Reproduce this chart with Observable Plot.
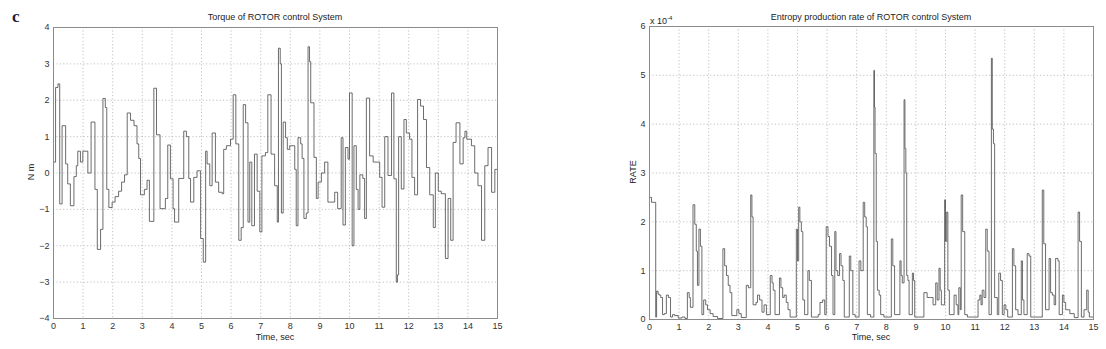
<!DOCTYPE html>
<html>
<head>
<meta charset="utf-8">
<script src="https://cdn.jsdelivr.net/npm/d3@7"></script>
<script src="https://cdn.jsdelivr.net/npm/@observablehq/plot@0.6"></script>
<style>
  html, body { margin: 0; padding: 0; background: #fff; }
  #wrap { position: relative; width: 1106px; height: 349px; overflow: hidden; font-family: "Liberation Sans", Arial, sans-serif; }
  #left, #right { position: absolute; top: 0; }
  #left { left: 0; }
  #right { left: 553px; }
  .lbl { position: absolute; white-space: nowrap; color: #222; font-size: 9px; line-height: 1; }
  .ctr { transform: translate(-50%, -50%); }
  .rot { transform: translate(-50%, -50%) rotate(-90deg); }
</style>
</head>
<body>
<div id="wrap">
  <div id="left"></div>
  <div id="right"></div>
  <div class="lbl" style="left:12px; top:8px; font-family:'Liberation Serif','DejaVu Serif',serif; font-weight:bold; font-size:17px; color:#1d1d3a;">c</div>
  <div class="lbl ctr" style="left:275px; top:17px;">Torque of ROTOR control System</div>
  <div class="lbl ctr" style="left:871px; top:17px;">Entropy production rate of ROTOR control System</div>
  <div class="lbl ctr" style="left:275px; top:337px;">Time, sec</div>
  <div class="lbl ctr" style="left:871px; top:337px;">Time, sec</div>
  <div class="lbl rot" style="left:31px; top:172px;">N m</div>
  <div class="lbl rot" style="left:633px; top:172px;">RATE</div>
  <div class="lbl" style="left:650px; top:15px;">x 10<sup style="font-size:6px; vertical-align:4px;">-4</sup></div>
</div>
<script>
// ---- tick labels ----
const timeTicks = [0, 1, 2, 3, 4, 5, 6, 7, 8, 9, 10, 11, 12, 13, 14, 15];
const torqueTicks = [-4, -3, -2, -1, 0, 1, 2, 3, 4];
const rateTicks = [0, 1, 2, 3, 4, 5, 6]; // in units of 1e-4

// ---- torque (N m), step signal: switch times (s) and held values ----
const torqueTime = [0, 0.07, 0.15, 0.21, 0.29, 0.41, 0.48, 0.57, 0.69, 0.77, 0.82, 0.91, 0.99, 1.16, 1.27, 1.4, 1.48, 1.59, 1.67, 1.75, 1.8, 1.87, 1.98, 2.08, 2.2, 2.3, 2.4, 2.49, 2.6, 2.72, 2.82, 2.88, 2.94, 3.07, 3.16, 3.24, 3.39, 3.48, 3.6, 3.78, 3.86, 3.95, 4.04, 4.09, 4.23, 4.4, 4.49, 4.57, 4.63, 4.74, 4.85, 4.97, 5.06, 5.14, 5.19, 5.28, 5.36, 5.47, 5.58, 5.7, 5.75, 5.84, 5.98, 6.07, 6.16, 6.26, 6.34, 6.41, 6.49, 6.57, 6.63, 6.7, 6.79, 6.88, 6.97, 7.04, 7.16, 7.24, 7.35, 7.47, 7.56, 7.6, 7.66, 7.7, 7.76, 7.84, 7.9, 7.98, 8.15, 8.2, 8.26, 8.35, 8.4, 8.46, 8.54, 8.6, 8.65, 8.69, 8.8, 8.88, 8.94, 9.05, 9.16, 9.27, 9.5, 9.6, 9.72, 9.78, 9.86, 9.95, 10.0, 10.09, 10.15, 10.23, 10.29, 10.35, 10.45, 10.51, 10.57, 10.68, 10.8, 11.02, 11.1, 11.19, 11.3, 11.42, 11.5, 11.58, 11.62, 11.66, 11.75, 11.84, 11.92, 12.03, 12.11, 12.2, 12.3, 12.4, 12.5, 12.6, 12.71, 12.83, 12.9, 13.0, 13.1, 13.24, 13.33, 13.42, 13.5, 13.6, 13.73, 13.84, 13.9, 13.96, 14.12, 14.23, 14.34, 14.46, 14.57, 14.68, 14.8, 14.91, 15];
const torqueValue = [0.3, 2.35, 2.45, -0.85, 1.3, 0.25, -0.3, -0.9, -0.1, 0.2, 0.6, 0.3, 0.6, 0.0, 1.4, -0.45, -2.1, -1.55, 2.05, 1.8, -0.45, -0.95, -0.8, -0.65, -0.5, -0.25, -0.05, 1.65, 1.45, 1.3, 0.8, 0.4, -0.6, -0.45, -0.2, -1.33, 2.33, 1.05, -0.98, -0.7, 0.77, -0.16, -0.98, -1.35, -0.15, 1.15, 1.0, -0.15, -0.8, -0.12, 0.06, -1.8, -2.45, 0.6, 0.25, -0.35, 1.1, -0.25, -0.53, -0.57, 0.65, 0.75, 0.93, 2.15, 0.8, -1.85, -1.5, 1.88, 1.38, -1.35, 0.3, -1.45, 0.52, -0.5, -1.62, 0.47, 0.56, 2.15, 0.52, -0.35, -1.35, 3.43, 3.0, -1.1, 1.4, 0.97, 0.65, 0.75, 0.1, -1.45, 0.97, 0.8, 0.4, -1.25, -1.1, 3.47, 3.06, 1.93, 0.43, -0.7, -0.25, 0.0, 0.3, -0.8, -0.53, -0.98, 0.97, -1.43, 0.7, 0.38, 2.2, -2.0, 0.75, -0.45, -1.0, -0.05, -0.15, -1.25, 2.06, 0.47, 0.3, -0.12, -0.94, 1.0, -0.07, 2.2, -0.16, -3.0, -2.8, 1.0, -0.44, 1.47, 1.1, 0.93, -0.12, -0.6, 2.02, 1.84, 1.47, 0.15, -0.6, -1.5, 0.0, -0.5, -0.57, -2.35, -0.7, -1.85, 0.84, 1.38, 0.25, 0.97, 1.15, 0.93, 0.75, 0.0, -0.35, -1.85, 0.2, 0.7, -0.53, 0.1, 0.1];

// ---- entropy production rate (x 1e-4), step signal ----
const rateTime = [0, 0.07, 0.21, 0.24, 0.29, 0.33, 0.38, 0.44, 0.5, 0.57, 0.64, 0.71, 0.78, 0.85, 0.97, 1.1, 1.2, 1.28, 1.34, 1.38, 1.47, 1.53, 1.58, 1.62, 1.67, 1.72, 1.77, 1.83, 1.9, 1.96, 2.05, 2.15, 2.3, 2.48, 2.54, 2.6, 2.66, 2.72, 2.78, 2.95, 3.02, 3.1, 3.27, 3.34, 3.42, 3.46, 3.5, 3.6, 3.65, 3.72, 3.8, 3.87, 3.95, 4.08, 4.14, 4.18, 4.24, 4.39, 4.44, 4.5, 4.55, 4.62, 4.68, 4.75, 4.96, 5.0, 5.04, 5.08, 5.13, 5.18, 5.24, 5.35, 5.4, 5.47, 5.7, 5.76, 5.85, 5.92, 5.97, 6.03, 6.08, 6.15, 6.2, 6.26, 6.3, 6.36, 6.42, 6.47, 6.53, 6.58, 6.75, 6.8, 6.87, 6.95, 7.08, 7.14, 7.22, 7.27, 7.32, 7.36, 7.47, 7.58, 7.6, 7.62, 7.66, 7.7, 7.76, 7.81, 7.92, 8.17, 8.22, 8.28, 8.46, 8.5, 8.54, 8.6, 8.63, 8.66, 8.69, 8.73, 8.77, 8.88, 8.92, 8.96, 9.27, 9.38, 9.5, 9.58, 9.67, 9.72, 9.78, 9.82, 9.86, 9.97, 10.0, 10.04, 10.08, 10.13, 10.29, 10.36, 10.42, 10.45, 10.5, 10.53, 10.58, 10.65, 10.74, 11.1, 11.16, 11.2, 11.24, 11.3, 11.36, 11.41, 11.47, 11.55, 11.58, 11.62, 11.66, 11.75, 11.8, 11.86, 11.92, 11.98, 12.04, 12.1, 12.26, 12.31, 12.37, 12.45, 12.56, 12.6, 12.65, 12.76, 12.82, 12.88, 13.27, 13.32, 13.38, 13.5, 13.55, 13.61, 13.67, 13.72, 13.8, 13.84, 13.95, 14.0, 14.06, 14.2, 14.35, 14.48, 14.53, 14.59, 14.68, 14.77, 14.82, 14.86, 15];
const rateValue = [2.5, 2.4, 0.05, 0.58, 0.52, 0.5, 0.45, 0.1, 0.12, 0.5, 0.45, 0.05, 0.1, 0.08, 0.03, 0.05, 0.02, 0.55, 0.45, 0.25, 2.35, 1.95, 1.4, 0.7, 1.85, 1.5, 0.1, 0.4, 0.3, 0.2, 0.12, 0.06, 0.02, 1.45, 1.1, 0.9, 0.7, 0.55, 0.08, 0.2, 0.12, 0.04, 0.7, 0.65, 2.55, 2.1, 0.3, 0.35, 0.5, 0.4, 0.15, 0.3, 0.1, 0.9, 0.75, 0.6, 0.1, 0.85, 0.65, 0.45, 0.5, 0.35, 0.2, 0.05, 1.85, 1.2, 2.3, 2.0, 1.8, 0.4, 0.1, 1.0, 0.8, 0.05, 0.1, 0.35, 0.4, 0.1, 1.9, 1.7, 1.5, 0.9, 0.1, 1.8, 1.0, 0.9, 1.35, 1.1, 0.8, 0.05, 1.3, 1.0, 0.1, 0.05, 1.2, 1.0, 2.4, 2.1, 1.9, 0.1, 0.05, 5.1, 4.35, 3.4, 1.6, 0.6, 0.5, 0.1, 0.05, 1.65, 1.1, 0.1, 1.2, 0.9, 0.75, 4.5, 3.5, 3.0, 0.9, 0.8, 0.1, 0.95, 0.8, 0.05, 0.55, 0.45, 0.45, 0.3, 0.75, 0.4, 1.05, 0.6, 0.3, 2.45, 1.6, 2.2, 0.6, 0.1, 0.5, 0.3, 0.1, 0.65, 0.2, 2.55, 1.8, 0.1, 0.05, 0.4, 0.5, 0.3, 0.6, 0.45, 1.85, 1.4, 0.1, 5.35, 3.9, 3.6, 0.45, 0.1, 0.95, 0.8, 0.1, 0.3, 0.2, 0.05, 1.45, 1.1, 0.2, 0.1, 1.2, 0.4, 0.1, 1.35, 1.3, 0.05, 2.65, 1.55, 0.2, 1.25, 0.55, 0.5, 0.3, 1.25, 1.2, 0.1, 0.5, 0.35, 0.2, 0.12, 0.04, 2.2, 1.6, 0.05, 0.2, 0.6, 0.15, 0.05, 0.05];

const torque = torqueTime.map((t, i) => ({t, v: torqueValue[i]}));
const rate = rateTime.map((t, i) => ({t, v: rateValue[i]}));

const gridStyle = {stroke: "#9a9a9a", strokeOpacity: 0.75, strokeDasharray: "1.2,2.2", strokeWidth: 0.8};

function panel(data, yTicks, yDomain, m) {
  return Plot.plot({
    width: 553, height: 349,
    marginLeft: m.left, marginRight: m.right, marginTop: m.top, marginBottom: m.bottom,
    style: {fontFamily: "'Liberation Sans', Arial, sans-serif", fontSize: "9px", color: "#333", background: "transparent"},
    x: {domain: [0, 15], ticks: timeTicks},
    y: {domain: yDomain, ticks: yTicks},
    marks: [
      Plot.gridX(timeTicks, gridStyle),
      Plot.gridY(yTicks, gridStyle),
      Plot.line(data, {x: "t", y: "v", curve: "step-after", stroke: "#474747", strokeWidth: 0.8}),
      Plot.frame({stroke: "#8c8c8c", strokeWidth: 1}),
      Plot.axisX(timeTicks, {tickSize: 0, tickPadding: 4, label: null}),
      Plot.axisY(yTicks, {tickSize: 0, tickPadding: 4, label: null})
    ]
  });
}

document.getElementById("left").appendChild(
  panel(torque, torqueTicks, [-4, 4], {left: 53, right: 56, top: 27, bottom: 31}));
document.getElementById("right").appendChild(
  panel(rate, rateTicks, [0, 6], {left: 96, right: 13, top: 26, bottom: 30}));
</script>
</body>
</html>
